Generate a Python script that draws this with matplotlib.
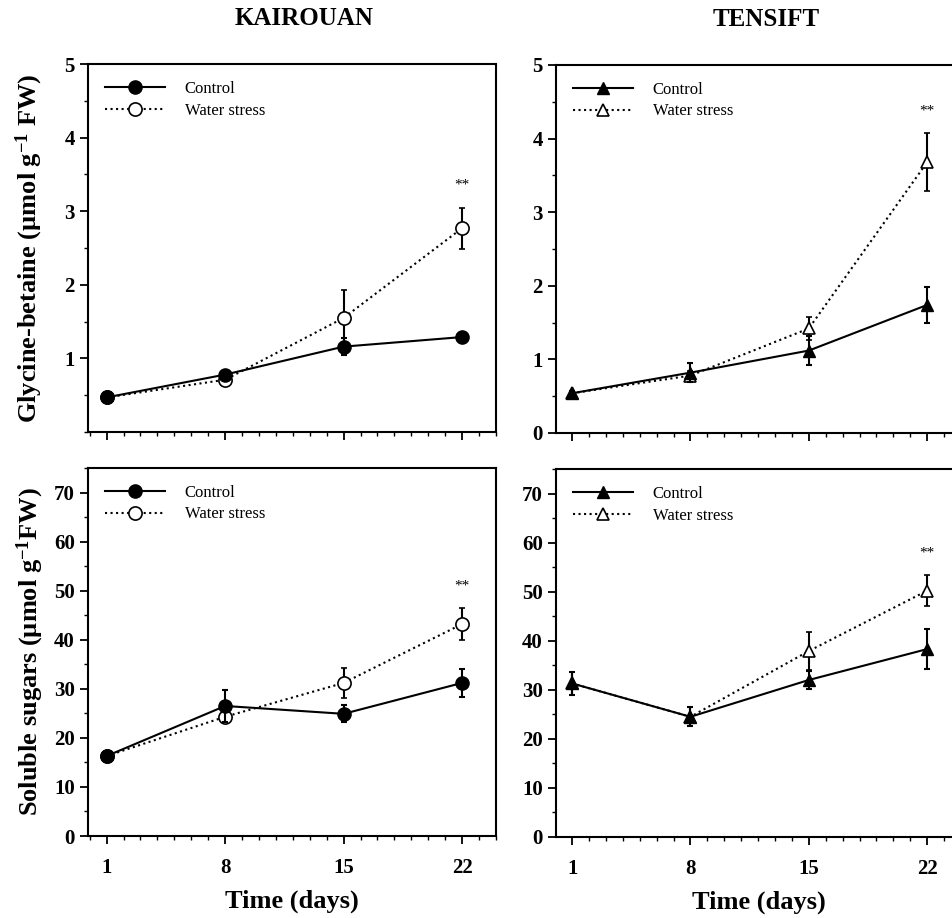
import matplotlib
matplotlib.use('Agg')
import matplotlib.pyplot as plt
from matplotlib.lines import Line2D
from matplotlib.ticker import MultipleLocator

plt.rcParams['font.family'] = 'Liberation Serif'
plt.rcParams['mathtext.fontset'] = 'custom'
plt.rcParams['mathtext.rm'] = 'Liberation Serif:bold'
plt.rcParams['mathtext.it'] = 'Liberation Serif:bold'
plt.rcParams['mathtext.bf'] = 'Liberation Serif:bold'

days = [1, 8, 15, 22]
sites = ['KAIROUAN', 'TENSIFT']

# glycine-betaine (umol g-1 FW)
kai_gb_ctrl = [0.47, 0.78, 1.16, 1.29]
kai_gb_ctrl_err = [0.02, 0.03, 0.12, 0.03]
kai_gb_ws = [0.47, 0.71, 1.55, 2.77]
kai_gb_ws_err = [0.02, 0.06, 0.38, 0.28]
ten_gb_ctrl = [0.54, 0.82, 1.12, 1.74]
ten_gb_ctrl_err = [0.03, 0.13, 0.20, 0.25]
ten_gb_ws = [0.54, 0.78, 1.42, 3.68]
ten_gb_ws_err = [0.03, 0.06, 0.16, 0.39]

# soluble sugars (umol g-1 FW)
kai_ss_ctrl = [16.3, 26.5, 24.9, 31.2]
kai_ss_ctrl_err = [0.8, 3.2, 1.7, 2.8]
kai_ss_ws = [16.3, 24.3, 31.2, 43.2]
kai_ss_ws_err = [0.8, 0.8, 3.1, 3.3]
ten_ss_ctrl = [31.3, 24.5, 32.0, 38.3]
ten_ss_ctrl_err = [2.3, 1.9, 1.9, 4.0]
ten_ss_ws = [31.3, 24.5, 37.9, 50.2]
ten_ss_ws_err = [2.3, 1.9, 3.8, 3.2]

W, H = 952, 918
fig = plt.figure(figsize=(W / 100, H / 100), dpi=100)


def box(left, top, right, bottom):
    return [left / W, 1 - bottom / H, (right - left) / W, (bottom - top) / H]


panels = [
    # (rect, ctrl, ctrl_err, ws, ws_err, marker, ylim, major, minor, xlim)
    (box(88, 64, 496, 432), kai_gb_ctrl, kai_gb_ctrl_err, kai_gb_ws, kai_gb_ws_err, 'o', 5, 1, 0.5, (-0.1, 24)),
    (box(556, 65, 961, 433), ten_gb_ctrl, ten_gb_ctrl_err, ten_gb_ws, ten_gb_ws_err, '^', 5, 1, 0.5, (0.05, 24)),
    (box(88, 468, 496, 836), kai_ss_ctrl, kai_ss_ctrl_err, kai_ss_ws, kai_ss_ws_err, 'o', 75, 10, 5, (-0.1, 24)),
    (box(556, 469, 961, 837), ten_ss_ctrl, ten_ss_ctrl_err, ten_ss_ws, ten_ss_ws_err, '^', 75, 10, 5, (0.05, 24)),
]

axes = []
for i, (rect, ctrl, cerr, ws, werr, mk, ytop, major, minor, xlim) in enumerate(panels):
    ax = fig.add_axes(rect)
    axes.append(ax)
    ms = 9.5 if mk == 'o' else 9
    ax.errorbar(days, ws, yerr=werr, color='black', ls=':', lw=1.5, marker=mk,
                ms=ms, mfc='white', mec='black', mew=1.2, capsize=2.5,
                elinewidth=1.5, capthick=1.5, zorder=2)
    ax.errorbar(days, ctrl, yerr=cerr, color='black', ls='-', lw=1.5, marker=mk,
                ms=ms, mfc='black', mec='black', capsize=2.5,
                elinewidth=1.5, capthick=1.5, zorder=3)
    ax.text(days[-1], ws[-1] + werr[-1] + 0.06 * ytop, '**', ha='center',
            va='center', fontsize=11)

    ax.set_xlim(*xlim)
    ax.set_ylim(0, ytop)
    ax.set_xticks(days)
    ax.xaxis.set_minor_locator(MultipleLocator(1))
    ax.yaxis.set_major_locator(MultipleLocator(major))
    ax.yaxis.set_minor_locator(MultipleLocator(minor))
    ax.tick_params(which='major', direction='out', length=6, width=1.3,
                   labelsize=15)
    ax.tick_params(axis='x', which='major', pad=10)
    ax.tick_params(which='minor', direction='out', length=3, width=1)
    for sp in ax.spines.values():
        sp.set_linewidth(1.5)

    if i < 2:
        ax.tick_params(axis='x', labelbottom=False)
        ax.set_title(sites[i], fontsize=18, fontweight='bold', pad=28,
                     x=0.53 if i == 0 else 0.52)
    else:
        ax.set_xlabel('Time (days)', fontsize=19, fontweight='bold', labelpad=8)

    handles = [
        Line2D([], [], color='black', ls='-', lw=1.5, marker=mk, ms=ms,
               mfc='black', mec='black'),
        Line2D([], [], color='black', ls=':', lw=1.5, marker=mk, ms=ms,
               mfc='white', mec='black', mew=1.2),
    ]
    ax.legend(handles, ['Control', 'Water stress'], loc='upper left',
              frameon=False, fontsize=12, handlelength=3.6, handletextpad=1.2,
              borderaxespad=0.6, labelspacing=0.35)

# no "0" on top-left y axis
axes[0].set_yticks([1, 2, 3, 4, 5])

for ax in axes:
    for lab in ax.get_xticklabels() + ax.get_yticklabels():
        lab.set_fontweight('bold')

axes[0].set_ylabel('Glycine-betaine (µmol g$^{-1}$ FW)', fontsize=19,
                   fontweight='bold', labelpad=14)
axes[2].set_ylabel('Soluble sugars (µmol g$^{-1}$FW)', fontsize=19,
                   fontweight='bold', labelpad=6)

fig.savefig('out.png', dpi=100)
